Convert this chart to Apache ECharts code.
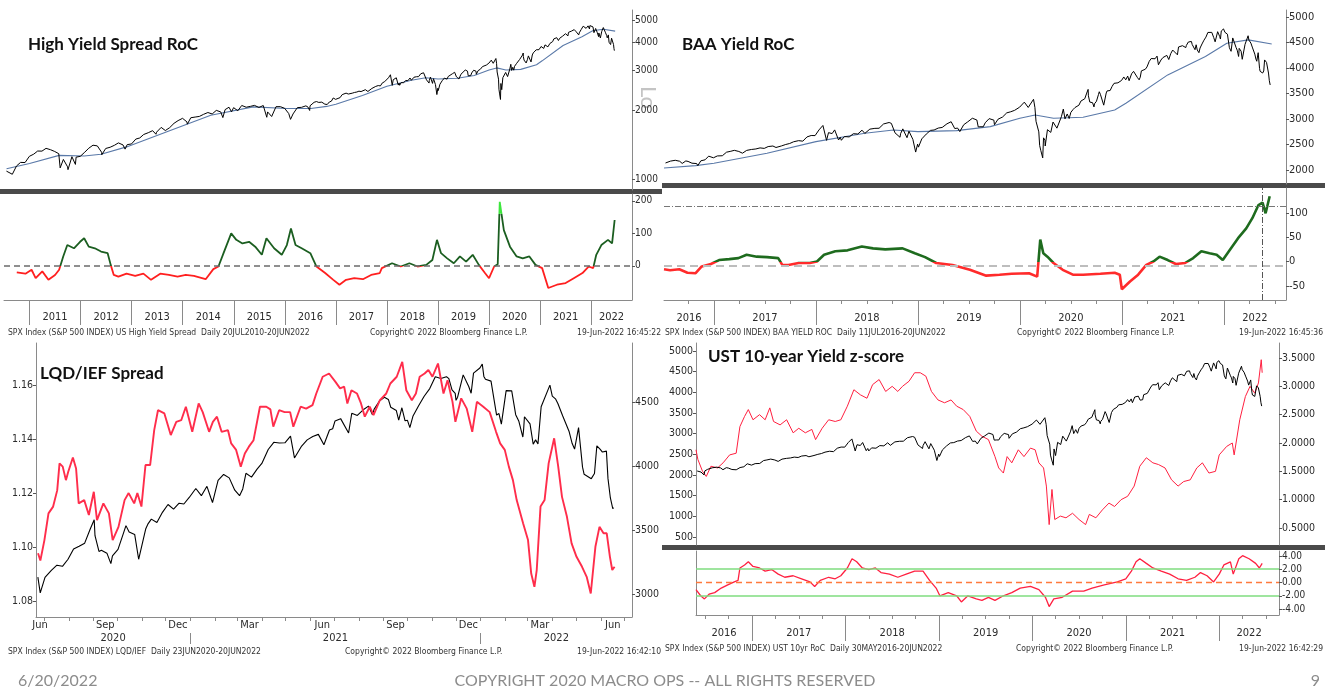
<!DOCTYPE html>
<html>
<head>
<meta charset="utf-8">
<script src="https://cdn.jsdelivr.net/npm/echarts@6/dist/echarts.min.js"></script>
<style>
  html, body { margin: 0; padding: 0; background: #fff; }
  #chart { width: 1325px; height: 690px; }
</style>
</head>
<body>
<div id="chart"></div>
<script>
// ---------------- data ----------------
// S&P 500 closes (shared by all four panels)
const spxDates = [
  '2010-07-20','2010-07-30','2010-08-31','2010-09-30','2010-10-29','2010-11-30','2010-12-31',
  '2011-01-31','2011-02-28','2011-03-31','2011-04-29','2011-05-31','2011-06-30','2011-07-29','2011-08-08','2011-08-31','2011-09-30','2011-10-03','2011-10-31','2011-11-25','2011-11-30','2011-12-30',
  '2012-01-31','2012-02-29','2012-03-30','2012-04-30','2012-05-31','2012-06-01','2012-06-29','2012-07-31','2012-08-31','2012-09-28','2012-10-31','2012-11-15','2012-11-30','2012-12-31',
  '2013-01-31','2013-02-28','2013-03-28','2013-04-30','2013-05-31','2013-06-24','2013-06-28','2013-07-31','2013-08-30','2013-09-30','2013-10-31','2013-11-29','2013-12-31',
  '2014-01-31','2014-02-03','2014-02-28','2014-03-31','2014-04-30','2014-05-30','2014-06-30','2014-07-31','2014-08-29','2014-09-30','2014-10-15','2014-10-31','2014-11-28','2014-12-16','2014-12-31',
  '2015-01-30','2015-02-27','2015-03-31','2015-04-30','2015-05-29','2015-06-30','2015-07-31','2015-08-25','2015-08-31','2015-09-29','2015-10-30','2015-11-30','2015-12-31',
  '2016-01-29','2016-02-11','2016-02-29','2016-03-31','2016-04-29','2016-05-13','2016-05-31','2016-06-15','2016-06-27','2016-06-30','2016-07-11','2016-07-29','2016-08-15','2016-08-31','2016-09-09','2016-09-22','2016-09-30','2016-10-14','2016-10-31','2016-11-04','2016-11-15','2016-11-30','2016-12-13','2016-12-30',
  '2017-01-13','2017-01-31','2017-02-15','2017-02-28','2017-03-01','2017-03-15','2017-03-31','2017-04-13','2017-04-28','2017-05-15','2017-05-31','2017-06-15','2017-06-30','2017-07-14','2017-07-31','2017-08-11','2017-08-31','2017-09-15','2017-09-29','2017-10-13','2017-10-31','2017-11-15','2017-11-30','2017-12-15','2017-12-29',
  '2018-01-12','2018-01-26','2018-02-08','2018-02-15','2018-02-28','2018-03-09','2018-03-23','2018-03-29','2018-04-13','2018-04-30','2018-05-15','2018-05-31','2018-06-15','2018-06-29','2018-07-13','2018-07-31','2018-08-15','2018-08-31','2018-09-20','2018-09-28','2018-10-11','2018-10-29','2018-10-31','2018-11-08','2018-11-23','2018-11-30','2018-12-03','2018-12-14','2018-12-24','2018-12-31',
  '2019-01-15','2019-01-31','2019-02-15','2019-02-28','2019-03-15','2019-03-29','2019-04-15','2019-04-30','2019-05-13','2019-05-31','2019-06-03','2019-06-14','2019-06-28','2019-07-15','2019-07-31','2019-08-05','2019-08-15','2019-08-30','2019-09-13','2019-09-30','2019-10-02','2019-10-15','2019-10-31','2019-11-15','2019-11-29','2019-12-13','2019-12-31',
  '2020-01-17','2020-01-31','2020-02-19','2020-02-28','2020-03-06','2020-03-12','2020-03-16','2020-03-23','2020-03-26','2020-03-31','2020-04-09','2020-04-21','2020-04-29','2020-05-13','2020-05-29','2020-06-08','2020-06-11','2020-06-19','2020-06-23',
  '2020-06-26','2020-07-02','2020-07-10','2020-07-17','2020-07-24','2020-07-31','2020-08-07','2020-08-14','2020-08-21','2020-08-28','2020-09-02','2020-09-08','2020-09-11','2020-09-18','2020-09-23','2020-09-25','2020-10-02','2020-10-09','2020-10-16','2020-10-23','2020-10-30','2020-11-06','2020-11-13','2020-11-20','2020-11-27','2020-12-04','2020-12-11','2020-12-18','2020-12-24','2020-12-31',
  '2021-01-08','2021-01-15','2021-01-22','2021-01-29','2021-02-05','2021-02-12','2021-02-19','2021-02-26','2021-03-04','2021-03-12','2021-03-19','2021-03-26','2021-04-01','2021-04-09','2021-04-16','2021-04-23','2021-04-30','2021-05-07','2021-05-12','2021-05-21','2021-05-28','2021-06-04','2021-06-11','2021-06-18','2021-06-25','2021-07-02','2021-07-09','2021-07-19','2021-07-23','2021-07-30','2021-08-06','2021-08-13','2021-08-20','2021-08-27','2021-09-02','2021-09-10','2021-09-17','2021-09-24','2021-10-01','2021-10-04','2021-10-08','2021-10-15','2021-10-22','2021-10-29','2021-11-05','2021-11-12','2021-11-19','2021-11-26','2021-12-01','2021-12-10','2021-12-17','2021-12-23','2021-12-31',
  '2022-01-03','2022-01-07','2022-01-14','2022-01-21','2022-01-27','2022-02-02','2022-02-09','2022-02-14','2022-02-18','2022-02-23','2022-02-25','2022-03-04','2022-03-08','2022-03-11','2022-03-18','2022-03-29','2022-04-01','2022-04-08','2022-04-14','2022-04-22','2022-04-29','2022-05-04','2022-05-11','2022-05-20','2022-05-27','2022-06-03','2022-06-08','2022-06-10','2022-06-13','2022-06-16','2022-06-17'
];
const spxValues = [
  1083,1102,1049,1141,1183,1181,1258,
  1286,1327,1326,1364,1345,1321,1292,1119,1219,1131,1099,1253,1159,1247,1258,
  1312,1366,1408,1398,1310,1278,1362,1379,1407,1441,1412,1353,1416,1426,
  1498,1515,1569,1598,1631,1573,1606,1686,1633,1682,1757,1806,1848,
  1783,1742,1859,1872,1884,1924,1960,1931,2003,1972,1862,2018,2068,1973,2059,
  1995,2105,2068,2086,2107,2063,2104,1868,1972,1882,2079,2080,2044,
  1940,1829,1932,2060,2065,2047,2097,2071,2001,2099,2137,2174,2190,2171,2128,2177,2168,2133,2126,2085,2180,2199,2271,2239,
  2275,2279,2349,2364,2396,2385,2363,2329,2384,2402,2412,2433,2423,2459,2470,2441,2472,2500,2519,2553,2575,2565,2648,2676,2674,
  2786,2873,2581,2732,2714,2786,2588,2641,2656,2648,2711,2705,2780,2718,2801,2816,2818,2902,2931,2914,2728,2641,2711,2806,2633,2760,2790,2600,2351,2507,
  2610,2704,2776,2784,2822,2834,2905,2946,2812,2752,2744,2887,2942,3014,2980,2844,2848,2926,3007,2977,2887,2996,3038,3120,3141,3169,3231,
  3330,3226,3386,2954,2972,2481,2386,2237,2630,2585,2790,2737,2940,2820,3044,3232,3002,3098,3131,
  3009,3130,3185,3225,3216,3271,3351,3373,3397,3508,3580,3332,3341,3319,3237,3298,3348,3477,3484,3465,3270,3510,3585,3558,3638,3699,3663,3709,3703,3756,
  3824,3768,3841,3714,3887,3934,3907,3811,3768,3943,3913,3975,4020,4129,4185,4180,4181,4233,4063,4156,4204,4230,4247,4166,4281,4352,4370,4258,4412,4395,4437,4468,4442,4509,4537,4459,4433,4455,4357,4300,4391,4471,4545,4605,4697,4683,4698,4595,4513,4712,4621,4726,4766,
  4797,4677,4663,4398,4327,4589,4587,4401,4349,4226,4385,4329,4170,4204,4463,4632,4546,4488,4393,4272,4132,4300,3935,3901,4158,4109,4116,3901,3750,3667,3675
];
// intra-week highs / lows that give the daily line its jagged look
const spxExtraDates = [
  '2017-08-18','2018-04-02','2018-05-03','2018-06-25','2019-01-03','2019-03-07','2019-05-23','2019-08-23','2019-10-08',
  '2020-02-24','2020-03-09','2020-03-18','2020-04-01','2020-05-14','2020-06-05',
  '2020-09-03','2020-10-12','2020-10-28','2020-11-09','2021-01-27','2021-03-08','2021-06-29','2021-08-18','2021-09-07','2021-09-20','2021-09-28',
  '2021-11-22','2021-11-30','2021-12-03','2021-12-20','2022-01-05','2022-01-24','2022-02-24','2022-03-14','2022-04-05','2022-04-26','2022-05-09','2022-05-12','2022-05-24','2022-05-31'
];
const spxExtraValues = [
  2425,2582,2630,2717,2448,2749,2822,2847,2893,
  3225,2747,2398,2470,2852,3194,
  3455,3534,3271,3550,3750,3821,4291,4400,4520,4358,4353,
  4682,4567,4538,4568,4700,4410,4288,4173,4525,4175,3991,3930,3941,4132
];

// S&P 500 moving average (blue line, top panels)
const maYears = [2010.55,2011.0,2011.58,2012.07,2012.4,2012.9,2013.73,2014.55,2015.38,2016.04,2016.51,2016.82,2017.0,2017.52,2018.0,2018.48,2018.76,2019.0,2019.38,2019.71,2020.0,2020.15,2020.33,2020.62,2020.93,2021.04,2021.45,2021.82,2022.03,2022.24,2022.47];
const maValues = [1110,1170,1270,1262,1285,1384,1626,1908,2076,2040,2040,2085,2131,2327,2556,2719,2785,2752,2772,2850,3014,3079,3014,3033,3177,3308,3864,4224,4485,4551,4470];

// US high yield spread rate of change
const hyRocYears = [
  2010.75,2010.92,
  2011.04,2011.12,2011.25,2011.37,2011.5,2011.58,2011.66,2011.74,2011.87,2011.99,
  2012.07,2012.16,2012.28,2012.40,2012.53,2012.59,2012.65,2012.74,2012.9,
  2013.07,2013.23,2013.38,2013.56,2013.73,2013.9,
  2014.06,2014.22,2014.45,2014.6,2014.7,2014.8,2014.95,
  2015.05,2015.17,2015.3,2015.42,2015.55,2015.64,2015.79,2015.94,
  2016.04,2016.12,2016.21,2016.33,2016.5,2016.62,2016.79,2016.95,
  2017.07,2017.2,2017.36,2017.53,2017.69,2017.86,2017.9,
  2018.1,2018.27,2018.44,2018.6,2018.77,2018.89,2018.98,
  2019.06,2019.18,2019.31,2019.43,2019.55,2019.68,2019.8,2019.92,
  2020.0,2020.1,2020.17,2020.21,2020.29,2020.41,2020.54,2020.66,2020.79,2020.91,
  2021.04,2021.16,2021.33,2021.5,2021.66,2021.83,2021.95,
  2022.04,2022.1,2022.2,2022.33,2022.41,2022.46
];
const hyRocValues = [
  -20,-24,
  -12,-38,-17,-43,-28,-12,29,64,54,74,
  85,59,54,44,39,3,-28,-33,-24,
  -31,-24,-43,-24,-28,-33,
  -28,-31,-41,-10,-2,39,100,
  80,69,74,59,34,85,54,34,
  64,115,64,54,39,-2,-22,-43,
  -58,-43,-38,-41,-28,-22,-7,
  8,-2,8,-2,3,18,80,
  39,23,8,29,13,34,3,-22,
  -38,-2,5,197,110,59,29,23,29,3,
  -7,-68,-58,-53,-38,-22,-2,
  -7,34,64,80,69,141
];

// BAA yield rate of change
const baaRocYears = [
  2016.51,2016.57,2016.66,2016.74,2016.82,2016.88,2016.97,
  2017.05,2017.15,2017.24,2017.32,2017.42,2017.52,2017.63,2017.67,2017.73,2017.83,2017.94,
  2018.01,2018.08,2018.19,2018.31,2018.45,2018.56,2018.68,2018.85,2018.97,
  2019.07,2019.18,2019.34,2019.51,2019.67,2019.8,2019.92,
  2020.09,2020.17,2020.2,2020.23,2020.27,2020.33,2020.42,2020.52,2020.62,2020.79,2020.93,2020.98,
  2021.0,2021.08,2021.16,2021.24,2021.31,2021.37,2021.45,2021.53,2021.62,2021.7,2021.78,2021.86,2021.93,2021.99,
  2022.05,2022.14,2022.22,2022.28,2022.34,2022.38,2022.41,2022.45
];
const baaRocValues = [
  -16,-18,-16,-23,-24,-10,-5,
  3,5,7,14,10,9,7,-7,-7,-3,-3,
  0,14,21,23,31,27,25,27,17,
  9,-3,-7,-17,-29,-27,-25,
  -24,-31,45,17,10,-3,-17,-27,-27,-25,-23,-27,
  -57,-41,-27,-7,0,10,3,-5,-3,7,21,17,14,3,
  21,48,68,89,116,121,99,134
];

// LQD / IEF ratio
const lqdYears = [
  2020.476,2020.484,2020.498,2020.512,2020.528,2020.542,2020.550,2020.561,2020.572,2020.580,2020.596,2020.607,2020.616,2020.635,2020.651,2020.668,2020.679,2020.701,2020.720,2020.733,2020.753,2020.774,2020.788,2020.807,2020.818,2020.832,2020.846,2020.862,2020.876,2020.889,2020.911,2020.933,2020.952,2020.969,2020.985,
  2021.007,2021.029,2021.043,2021.065,2021.078,2021.092,2021.108,2021.130,2021.141,2021.158,2021.174,2021.188,2021.202,2021.218,2021.240,2021.262,2021.276,2021.286,2021.306,2021.325,2021.344,2021.355,2021.380,2021.399,2021.421,2021.434,2021.456,2021.478,2021.500,2021.516,2021.530,2021.541,2021.555,2021.574,2021.588,2021.601,2021.618,2021.631,2021.653,2021.675,2021.689,2021.711,2021.730,2021.744,2021.763,2021.777,2021.790,2021.807,2021.820,2021.834,2021.853,2021.872,2021.886,2021.903,2021.913,2021.933,2021.952,2021.971,2021.987,
  2022.009,2022.031,2022.053,2022.067,2022.083,2022.097,2022.111,2022.124,2022.146,2022.163,2022.174,2022.185,2022.193,2022.206,2022.220,2022.234,2022.253,2022.267,2022.280,2022.297,2022.313,2022.330,2022.349,2022.365,2022.379,2022.395,2022.409,2022.423,2022.434,2022.445,2022.453,2022.461
];
const lqdValues = [
  1.0977,1.095,1.1026,1.1125,1.115,1.121,1.131,1.1298,1.1248,1.1279,1.1332,1.1291,1.1162,1.1174,1.1119,1.1205,1.11,1.1162,1.1125,1.1026,1.1075,1.1174,1.12,1.1162,1.12,1.115,1.1304,1.1304,1.1433,1.1507,1.1495,1.1415,1.1464,1.147,1.152,
  1.1427,1.1532,1.15,1.1427,1.1464,1.1483,1.1427,1.1433,1.1384,1.136,1.1298,1.1347,1.1372,1.1396,1.152,1.152,1.151,1.1446,1.1507,1.15,1.15,1.1446,1.152,1.1513,1.1526,1.1569,1.1631,1.1643,1.1612,1.1588,1.1594,1.1532,1.1581,1.1569,1.1532,1.1483,1.152,1.1489,1.1544,1.1569,1.1606,1.1631,1.1686,1.1581,1.1544,1.1569,1.1631,1.1643,1.1656,1.1631,1.168,1.1569,1.1618,1.1538,1.1464,1.1551,1.1513,1.1427,1.1538,
  1.152,1.15,1.1427,1.1384,1.136,1.1298,1.1248,1.1174,1.1088,1.1026,1.0902,1.0853,1.0915,1.115,1.1174,1.131,1.1403,1.1298,1.1186,1.1112,1.1014,1.0964,1.0927,1.089,1.0828,1.1001,1.1075,1.1051,1.1051,1.0964,1.0915,1.0927
];

// US 10-year yield (red, bottom-right upper pane)
const ustYears = [
  2016.40,2016.42,2016.47,2016.51,2016.56,2016.63,2016.69,2016.76,2016.83,2016.87,2016.92,2016.96,
  2017.01,2017.08,2017.14,2017.19,2017.23,2017.3,2017.37,2017.44,2017.5,2017.57,2017.64,2017.68,2017.75,2017.82,2017.89,2017.95,
  2018.02,2018.09,2018.16,2018.23,2018.29,2018.36,2018.43,2018.5,2018.56,2018.61,2018.68,2018.74,2018.8,2018.86,2018.92,2018.99,
  2019.06,2019.13,2019.19,2019.26,2019.33,2019.4,2019.46,2019.53,2019.6,2019.64,2019.69,2019.73,2019.78,2019.85,2019.91,2019.98,
  2020.03,2020.07,2020.12,2020.15,2020.18,2020.21,2020.24,2020.3,2020.36,2020.43,2020.5,2020.57,2020.61,2020.68,2020.75,2020.82,2020.88,2020.95,
  2021.02,2021.09,2021.15,2021.22,2021.29,2021.35,2021.42,2021.49,2021.56,2021.62,2021.69,2021.76,2021.82,2021.89,2021.96,
  2022.0,2022.08,2022.14,2022.16,2022.22,2022.28,2022.33,2022.38,2022.42,2022.45,2022.46
];
const ustValues = [
  1.88,1.71,1.5,1.41,1.59,1.56,1.65,1.79,1.82,2.29,2.47,2.59,
  2.41,2.5,2.41,2.62,2.38,2.32,2.41,2.18,2.26,2.18,2.24,2.06,2.26,2.41,2.38,2.41,
  2.65,2.94,2.85,2.79,3.03,3.12,2.91,3.0,2.91,3.0,3.09,3.24,3.24,3.18,2.91,2.76,
  2.71,2.76,2.65,2.59,2.47,2.21,2.12,2.06,1.76,1.56,1.47,1.76,1.65,1.88,1.76,1.91,
  1.88,1.65,1.56,1.24,0.56,1.18,0.65,0.71,0.68,0.76,0.65,0.56,0.74,0.68,0.82,0.94,0.88,1.0,
  1.06,1.24,1.59,1.74,1.65,1.62,1.56,1.35,1.24,1.32,1.35,1.56,1.65,1.47,1.5,
  1.79,1.94,2.0,1.79,2.41,2.82,3.0,2.88,3.06,3.47,3.24
];

// UST 10-year yield z-score (bottom-right lower pane)
const zYears = [
  2016.4,2016.45,2016.49,2016.54,2016.6,2016.67,2016.74,2016.81,2016.85,2016.87,2016.92,2016.96,
  2017.01,2017.08,2017.14,2017.21,2017.28,2017.35,2017.44,2017.53,2017.62,2017.67,2017.73,2017.82,2017.89,2017.95,
  2018.02,2018.07,2018.12,2018.18,2018.25,2018.32,2018.38,2018.47,2018.56,2018.65,2018.74,2018.83,2018.9,2018.97,
  2019.01,2019.1,2019.19,2019.24,2019.31,2019.4,2019.46,2019.53,2019.6,2019.69,2019.78,2019.87,2019.98,
  2020.07,2020.14,2020.18,2020.23,2020.32,2020.43,2020.55,2020.64,2020.77,2020.91,
  2021.0,2021.06,2021.11,2021.15,2021.22,2021.29,2021.38,2021.47,2021.56,2021.65,2021.74,2021.8,2021.87,2021.94,
  2022.0,2022.05,2022.12,2022.15,2022.21,2022.25,2022.32,2022.39,2022.43,2022.46
];
const zValues = [
  -1.07,-2.0,-2.47,-1.77,-1.53,-0.84,-0.37,0.09,0.33,2.19,2.65,3.12,
  2.42,2.19,1.72,1.95,1.26,0.79,1.02,0.56,0.09,-0.6,0.33,0.79,0.56,1.02,
  2.19,3.58,3.12,2.19,1.95,2.19,1.49,1.26,0.79,1.26,1.72,1.72,0.33,-0.84,
  -2.0,-1.53,-2.0,-2.93,-2.0,-2.47,-2.7,-2.23,-2.7,-2.0,-1.53,-0.84,-0.6,
  -1.07,-2.23,-3.63,-2.47,-2.23,-1.3,-1.3,-0.84,-0.37,0.09,
  0.56,1.72,3.12,3.58,2.88,2.19,1.72,1.26,0.56,0.33,0.79,1.49,1.02,0.09,
  1.26,2.65,3.12,1.26,3.58,4.05,3.58,2.88,2.19,2.88
];

// tick labels
const spxLogTicks = [1000, 2000, 3000, 4000, 5000];
const hyRocTicks = [0, 100, 200];
const spxTicksBaa = [2000, 2500, 3000, 3500, 4000, 4500, 5000];
const baaRocTicks = [-50, 0, 50, 100];
const lqdTicks = [1.08, 1.10, 1.12, 1.14, 1.16];
const spxTicksLqd = [3000, 3500, 4000, 4500];
const spxTicksUst = [500, 1000, 1500, 2000, 2500, 3000, 3500, 4000, 4500, 5000];
const ustTicks = [0.5, 1.0, 1.5, 2.0, 2.5, 3.0, 3.5];
const zTicks = [-4, -2, 0, 2, 4];
const monthNames = ['Jan','Feb','Mar','Apr','May','Jun','Jul','Aug','Sep','Oct','Nov','Dec'];
const lqdMonthLabels = ['Mar', 'Jun', 'Sep', 'Dec'];

// ---------------- helpers ----------------
const AX = '#8a8a8a';
const TXT = '#2b2b2b';
const FONT = '"DejaVu Sans Condensed", "DejaVu Sans", sans-serif';
const TFONT = 'Lato, "Open Sans", sans-serif';

function decYear(s) {
  const p = s.split('-').map(Number);
  const t = Date.UTC(p[0], p[1] - 1, p[2]);
  const t0 = Date.UTC(p[0], 0, 1), t1 = Date.UTC(p[0] + 1, 0, 1);
  return p[0] + (t - t0) / (t1 - t0);
}
function pairs(xs, ys, f) {
  return xs.map((x, i) => [x, f ? f(ys[i]) : ys[i]]);
}
const spxAll = pairs(spxDates.map(decYear), spxValues)
  .concat(pairs(spxExtraDates.map(decYear), spxExtraValues))
  .sort((a, b) => a[0] - b[0]);
function spxFrom(start, f) {
  return spxAll.filter(p => p[0] >= start).map(p => [p[0], f ? f(p[1]) : p[1]]);
}

// grids (pixel layout of the four Bloomberg panels)
const grids = [
  { left: 4,   top: 10,  width: 628, height: 180 }, // 0 HY upper
  { left: 4,   top: 194, width: 628, height: 106 }, // 1 HY lower
  { left: 664, top: 10,  width: 622, height: 174 }, // 2 BAA upper
  { left: 664, top: 188, width: 622, height: 112 }, // 3 BAA lower
  { left: 36,  top: 343, width: 596, height: 274 }, // 4 LQD/IEF
  { left: 696, top: 343, width: 583, height: 202 }, // 5 UST upper
  { left: 696, top: 551, width: 583, height: 64 }   // 6 UST z-score
];
const xr1 = [2010.5, 2022.8];
const xr2 = [2016.51, 2022.61];
const xr3 = [2020.469, 2022.521];
const xr4 = [2016.40, 2022.64];

function yearMarks(r, widthPx) {
  const ppy = widthPx / (r[1] - r[0]);
  const ticks = [], labels = [];
  for (let y = Math.ceil(r[0]); y <= r[1]; y++) ticks.push(y);
  for (let y = Math.floor(r[0]); y <= Math.floor(r[1]); y++) {
    const lo = Math.max(y, r[0]), hi = Math.min(y + 1, r[1]);
    if ((hi - lo) * ppy > 35) labels.push((lo + hi) / 2);
  }
  return { ticks, labels };
}
function quarterTicks(r) {
  const out = [];
  for (let v = Math.ceil(r[0] * 4) / 4; v <= r[1]; v += 0.25) {
    if (Math.abs(v - Math.round(v)) > 0.01) out.push(v);
  }
  return out;
}

function xHidden(g, r) {
  return { type: 'value', gridIndex: g, min: r[0], max: r[1], show: false };
}
function xYears(g, r, tickLen, margin) {
  const m = yearMarks(r, grids[g].width);
  return {
    type: 'value', gridIndex: g, min: r[0], max: r[1], position: 'bottom',
    splitLine: { show: false },
    axisLine: { show: true, onZero: false, lineStyle: { color: AX, width: 1 } },
    axisTick: { show: true, customValues: m.ticks, length: tickLen, lineStyle: { color: AX } },
    axisLabel: { customValues: m.labels, formatter: v => String(Math.floor(v + 1e-9)),
      fontSize: 11, color: TXT, fontFamily: FONT, margin: margin }
  };
}
function xQuarters(g, r) {
  return {
    type: 'value', gridIndex: g, min: r[0], max: r[1], position: 'bottom',
    splitLine: { show: false }, axisLine: { show: false, onZero: false },
    axisTick: { show: true, customValues: quarterTicks(r), length: 4, lineStyle: { color: AX } },
    axisLabel: { show: false }
  };
}
function yAx(g, pos, min, max, ticks, fmt, fontSize) {
  return {
    type: 'value', gridIndex: g, position: pos, min: min, max: max,
    splitLine: { show: false },
    axisLine: { show: true, onZero: false, lineStyle: { color: AX } },
    axisTick: { show: true, customValues: ticks, length: 3, lineStyle: { color: '#555' } },
    axisLabel: { customValues: ticks, formatter: fmt, fontSize: fontSize || 10,
      color: TXT, fontFamily: FONT, margin: 3 }
  };
}

// LQD month ticks and labels
const monthStarts = [], monthLabelPos = [];
for (let y = 2020; y <= 2022; y++) {
  for (let m = 0; m < 12; m++) {
    const s = decYear(y + '-' + String(m + 1).padStart(2, '0') + '-01');
    const e = m === 11 ? y + 1 : decYear(y + '-' + String(m + 2).padStart(2, '0') + '-01');
    if (s > xr3[0] && s < xr3[1]) monthStarts.push(s);
    const lo = Math.max(s, xr3[0]), hi = Math.min(e, xr3[1]);
    if (hi > lo && lqdMonthLabels.indexOf(monthNames[m]) >= 0) monthLabelPos.push((lo + hi) / 2);
  }
}
const lqdYearMarks = yearMarks(xr3, grids[4].width);

const log10 = v => Math.log10(v);
const black = { color: '#000', width: 1 };

const option = {
  backgroundColor: '#fff',
  animation: false,
  grid: grids,
  xAxis: [
    xHidden(0, xr1),                  // 0
    xYears(1, xr1, 25, 12),           // 1
    xHidden(2, xr2),                  // 2
    xYears(3, xr2, 25, 13),           // 3
    xQuarters(3, xr2),                // 4
    {                                 // 5 months (LQD)
      type: 'value', gridIndex: 4, min: xr3[0], max: xr3[1], position: 'bottom',
      splitLine: { show: false },
      axisLine: { show: true, onZero: false, lineStyle: { color: AX } },
      axisTick: { show: true, customValues: monthStarts, length: 4, lineStyle: { color: AX } },
      axisLabel: { customValues: monthLabelPos,
        formatter: v => monthNames[Math.floor((v - Math.floor(v)) * 12)],
        fontSize: 11, color: TXT, fontFamily: FONT, margin: 3 }
    },
    {                                 // 6 years (LQD)
      type: 'value', gridIndex: 4, min: xr3[0], max: xr3[1], position: 'bottom', offset: 16,
      splitLine: { show: false }, axisLine: { show: false, onZero: false },
      axisTick: { show: true, customValues: lqdYearMarks.ticks, length: 11, lineStyle: { color: AX } },
      axisLabel: { customValues: lqdYearMarks.labels, formatter: v => String(Math.floor(v)),
        fontSize: 11, color: TXT, fontFamily: FONT, margin: 0 }
    },
    xHidden(5, xr4),                  // 7
    xYears(6, xr4, 26, 13),           // 8
    xQuarters(6, xr4)                 // 9
  ],
  yAxis: [
    yAx(0, 'right', 2.9516, 3.743, spxLogTicks.map(log10), v => String(Math.round(Math.pow(10, v))), 10),
    yAx(1, 'right', -105, 221, hyRocTicks, v => String(v), 10),
    yAx(2, 'right', 1725, 5137, spxTicksBaa, v => String(v), 11),
    yAx(3, 'right', -79, 151, baaRocTicks, v => String(v), 11),
    yAx(4, 'left', 1.0741, 1.1756, lqdTicks, v => v.toFixed(2), 10.5),
    yAx(4, 'right', 2820, 4961, spxTicksLqd, v => String(v), 10.5),
    yAx(5, 'left', 306, 5194, spxTicksUst, v => String(v), 10.5),
    yAx(5, 'right', 0.2, 3.765, ustTicks, v => v.toFixed(4), 10.5),
    yAx(6, 'right', -4.9, 4.75, zTicks, v => v.toFixed(2), 10),
    { type: 'value', gridIndex: 6, position: 'left', min: -4.9, max: 4.75, splitLine: { show: false },
      axisLine: { show: true, onZero: false, lineStyle: { color: AX } }, axisTick: { show: false }, axisLabel: { show: false } }
  ],
  visualMap: [
    { type: 'piecewise', show: false, seriesIndex: 2, dimension: 1,
      pieces: [ { lt: 0, color: '#ff1f1f' }, { gte: 0, lt: 160, color: '#1b5e20' }, { gte: 160, color: '#3ee63e' } ] },
    { type: 'piecewise', show: false, seriesIndex: 5, dimension: 1,
      pieces: [ { lt: 0, color: '#ff2b2b' }, { gte: 0, lt: 500, color: '#1e6b1e' }, { gte: 500, color: '#1e6b1e' } ] }
  ],
  series: [
    { type: 'line', xAxisIndex: 0, yAxisIndex: 0, data: spxFrom(2010.54, log10), showSymbol: false, lineStyle: black, z: 3 },
    { type: 'line', xAxisIndex: 0, yAxisIndex: 0, data: pairs(maYears, maValues, log10), showSymbol: false,
      lineStyle: { color: '#5a79a8', width: 1.1 }, z: 2 },
    { type: 'line', xAxisIndex: 1, yAxisIndex: 1, data: pairs(hyRocYears, hyRocValues), showSymbol: false,
      lineStyle: { width: 1.8 },
      markLine: { silent: true, symbol: 'none', label: { show: false },
        lineStyle: { color: '#6b6b6b', type: [6, 4], width: 1.6 }, data: [{ yAxis: 0 }] } },
    { type: 'line', xAxisIndex: 2, yAxisIndex: 2, data: spxFrom(2016.52), showSymbol: false, lineStyle: black, z: 3 },
    { type: 'line', xAxisIndex: 2, yAxisIndex: 2, data: pairs(maYears, maValues).filter(p => p[0] >= 2016.5),
      showSymbol: false, lineStyle: { color: '#5a79a8', width: 1.1 }, z: 2 },
    { type: 'line', xAxisIndex: 3, yAxisIndex: 3, data: pairs(baaRocYears, baaRocValues), showSymbol: false,
      lineStyle: { width: 2.6 },
      markLine: { silent: true, symbol: 'none', label: { show: false },
        data: [
          { yAxis: -8, lineStyle: { color: '#bdbdbd', type: [8, 5], width: 2 } },
          { yAxis: 113, lineStyle: { color: '#777', type: [6, 2, 1, 2], width: 1 } },
          { xAxis: 2022.38, lineStyle: { color: '#555', type: [6, 2, 1, 2], width: 1 } }
        ] } },
    { type: 'line', xAxisIndex: 5, yAxisIndex: 5, data: spxFrom(2020.47), showSymbol: false,
      lineStyle: { color: '#000', width: 1.1 }, z: 2 },
    { type: 'line', xAxisIndex: 5, yAxisIndex: 4, data: pairs(lqdYears, lqdValues), showSymbol: false,
      lineStyle: { color: '#ff2d4b', width: 1.9 }, z: 3 },
    { type: 'line', xAxisIndex: 7, yAxisIndex: 6, data: spxFrom(2016.40), showSymbol: false, lineStyle: black, z: 3 },
    { type: 'line', xAxisIndex: 7, yAxisIndex: 7, data: pairs(ustYears, ustValues), showSymbol: false,
      lineStyle: { color: '#ff2040', width: 1 }, z: 2 },
    { type: 'line', xAxisIndex: 8, yAxisIndex: 8, data: pairs(zYears, zValues), showSymbol: false,
      lineStyle: { color: '#ff2040', width: 1.3 }, z: 3,
      markLine: { silent: true, symbol: 'none', label: { show: false },
        data: [
          { yAxis: 2, lineStyle: { color: '#7fdc7f', type: 'solid', width: 1.6 } },
          { yAxis: -2, lineStyle: { color: '#7fdc7f', type: 'solid', width: 1.6 } },
          { yAxis: 0, lineStyle: { color: '#ff7a3d', type: [6, 4], width: 1.4 } }
        ] } }
  ],
  graphic: [
    // splitter bars between the stacked panes
    { type: 'rect', shape: { x: 0, y: 189, width: 662, height: 5 }, style: { fill: '#4a4a4a' }, silent: true },
    { type: 'rect', shape: { x: 662, y: 183, width: 663, height: 5 }, style: { fill: '#4a4a4a' }, silent: true },
    { type: 'rect', shape: { x: 662, y: 545, width: 663, height: 5 }, style: { fill: '#4a4a4a' }, silent: true },
    // panel titles
    { type: 'text', x: 28, y: 45, silent: true, style: { text: 'High Yield Spread RoC', font: 'bold 17px ' + TFONT, fill: '#111', verticalAlign: 'middle' } },
    { type: 'text', x: 682, y: 45, silent: true, style: { text: 'BAA Yield RoC', font: 'bold 17px ' + TFONT, fill: '#111', verticalAlign: 'middle' } },
    { type: 'text', x: 40, y: 374, silent: true, style: { text: 'LQD/IEF Spread', font: 'bold 17px ' + TFONT, fill: '#111', verticalAlign: 'middle' } },
    { type: 'text', x: 708, y: 357, silent: true, style: { text: 'UST 10-year Yield z-score', font: 'bold 17px ' + TFONT, fill: '#111', verticalAlign: 'middle' } },
    // faint "Log" scale marker
    { type: 'text', x: 659, y: 86, rotation: -Math.PI / 2, silent: true, style: { text: 'Lo', font: '22px ' + TFONT, fill: '#c4c4c4', verticalAlign: 'top' } },
    // Bloomberg footers
    { type: 'text', x: 8, y: 333, silent: true, style: { text: 'SPX Index (S&P 500 INDEX) US High Yield Spread  Daily 20JUL2010-20JUN2022', font: '8.5px ' + FONT, fill: '#333', verticalAlign: 'middle' } },
    { type: 'text', x: 370, y: 333, silent: true, style: { text: 'Copyright\u00a9 2022 Bloomberg Finance L.P.', font: '8.5px ' + FONT, fill: '#333', verticalAlign: 'middle' } },
    { type: 'text', x: 661, y: 333, silent: true, style: { text: '19-Jun-2022 16:45:22', font: '8.5px ' + FONT, fill: '#333', verticalAlign: 'middle', align: 'right' } },
    { type: 'text', x: 665, y: 333, silent: true, style: { text: 'SPX Index (S&P 500 INDEX) BAA YIELD ROC  Daily 11JUL2016-20JUN2022', font: '8.5px ' + FONT, fill: '#333', verticalAlign: 'middle' } },
    { type: 'text', x: 1017, y: 333, silent: true, style: { text: 'Copyright\u00a9 2022 Bloomberg Finance L.P.', font: '8.5px ' + FONT, fill: '#333', verticalAlign: 'middle' } },
    { type: 'text', x: 1323, y: 333, silent: true, style: { text: '19-Jun-2022 16:45:36', font: '8.5px ' + FONT, fill: '#333', verticalAlign: 'middle', align: 'right' } },
    { type: 'text', x: 8, y: 652, silent: true, style: { text: 'SPX Index (S&P 500 INDEX) LQD/IEF  Daily 23JUN2020-20JUN2022', font: '8.5px ' + FONT, fill: '#333', verticalAlign: 'middle' } },
    { type: 'text', x: 345, y: 652, silent: true, style: { text: 'Copyright\u00a9 2022 Bloomberg Finance L.P.', font: '8.5px ' + FONT, fill: '#333', verticalAlign: 'middle' } },
    { type: 'text', x: 661, y: 652, silent: true, style: { text: '19-Jun-2022 16:42:10', font: '8.5px ' + FONT, fill: '#333', verticalAlign: 'middle', align: 'right' } },
    { type: 'text', x: 665, y: 649, silent: true, style: { text: 'SPX Index (S&P 500 INDEX) UST 10yr RoC  Daily 30MAY2016-20JUN2022', font: '8.5px ' + FONT, fill: '#333', verticalAlign: 'middle' } },
    { type: 'text', x: 1016, y: 649, silent: true, style: { text: 'Copyright\u00a9 2022 Bloomberg Finance L.P.', font: '8.5px ' + FONT, fill: '#333', verticalAlign: 'middle' } },
    { type: 'text', x: 1323, y: 649, silent: true, style: { text: '19-Jun-2022 16:42:29', font: '8.5px ' + FONT, fill: '#333', verticalAlign: 'middle', align: 'right' } },
    // slide footer
    { type: 'text', x: 18, y: 681, silent: true, style: { text: '6/20/2022', font: '16px ' + TFONT, fill: '#8c8c8c', verticalAlign: 'middle' } },
    { type: 'text', x: 665, y: 681, silent: true, style: { text: 'COPYRIGHT 2020 MACRO OPS -- ALL RIGHTS RESERVED', font: '16px ' + TFONT, fill: '#8c8c8c', verticalAlign: 'middle', align: 'center' } },
    { type: 'text', x: 1320, y: 681, silent: true, style: { text: '9', font: '16px ' + TFONT, fill: '#8c8c8c', verticalAlign: 'middle', align: 'right' } }
  ]
};

const chart = echarts.init(document.getElementById('chart'));
chart.setOption(option);
</script>
</body>
</html>
